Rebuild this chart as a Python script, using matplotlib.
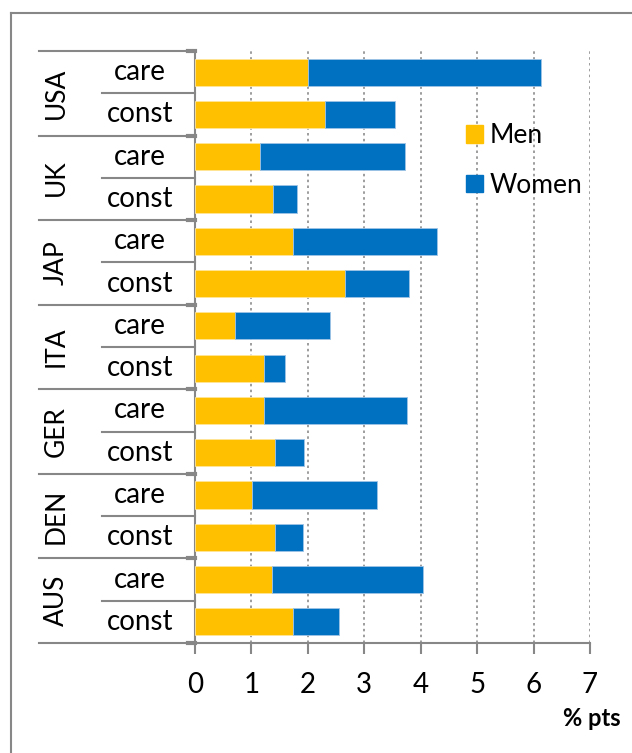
import numpy as np
import matplotlib
matplotlib.use("Agg")
import matplotlib.pyplot as plt
from matplotlib.lines import Line2D
from matplotlib.patches import Patch
from matplotlib.transforms import blended_transform_factory

plt.rcParams['font.family'] = ['Lato', 'DejaVu Sans']

# data, top row first
countries = ['USA', 'UK', 'JAP', 'ITA', 'GER', 'DEN', 'AUS']
subcats = ['care', 'const']
men = [2.01, 2.30, 1.16, 1.38, 1.73, 2.65, 0.70, 1.23, 1.23, 1.41, 1.01, 1.41, 1.37, 1.73]
women = [4.13, 1.25, 2.56, 0.42, 2.56, 1.14, 1.70, 0.36, 2.53, 0.53, 2.21, 0.50, 2.67, 0.82]
xticks = [0, 1, 2, 3, 4, 5, 6, 7]

yellow = '#FFC000'
blue = '#0070C0'
gray = '#878787'

W, H = 632, 753
fig = plt.figure(figsize=(W / 100, H / 100), dpi=100)

# outer chart border (only top and left show in the crop)
fig.add_artist(Line2D([11 / W, 11 / W], [0, 1 - 13 / H], color=gray, lw=1.5))
fig.add_artist(Line2D([11 / W, 1], [1 - 13 / H, 1 - 13 / H], color=gray, lw=1.5))

left, right, top, bottom = 195, 590, 51, 643
ax = fig.add_axes([left / W, 1 - bottom / H, (right - left) / W, (bottom - top) / H])

n = len(men)
y = np.arange(n)
ax.barh(y, men, height=0.64, color=yellow, edgecolor='#FFE699', linewidth=0.6, label='Men', zorder=3)
ax.barh(y, women, left=men, height=0.64, color=blue, edgecolor='#9DC3E6', linewidth=0.6, label='Women', zorder=3)

ax.set_ylim(n - 0.5, -0.5)
ax.set_xlim(0, 7)
ax.set_xticks(xticks)
ax.set_xticklabels([str(t) for t in xticks], fontsize=20)
ax.set_yticks([])
ax.tick_params(axis='x', direction='out', length=8, width=1.5, color=gray, pad=13)
ax.grid(axis='x', linestyle=(0, (1.5, 2)), color='#8c8c8c', lw=1.2, zorder=0)

for s in ['top', 'right']:
    ax.spines[s].set_visible(False)
for s in ['left', 'bottom']:
    ax.spines[s].set_color(gray)
    ax.spines[s].set_linewidth(1.5)

# category table on the left
tr = blended_transform_factory(ax.transAxes, ax.transData)
x_grp = (39 - left) / (right - left)
x_sub = (102 - left) / (right - left)
x_grp_txt = (56 - left) / (right - left)
x_sub_txt = (140 - left) / (right - left)
x_tick = (-7) / (right - left)

for g in range(len(countries) + 1):
    yy = g * 2 - 0.5
    ax.plot([x_grp, 0], [yy, yy], transform=tr, color=gray, lw=1.5, clip_on=False)
    ax.plot([x_tick, 0], [yy, yy], transform=tr, color=gray, lw=3, clip_on=False)
for g in range(len(countries)):
    yy = g * 2 + 0.5
    ax.plot([x_sub, 0], [yy, yy], transform=tr, color=gray, lw=1.5, clip_on=False)
    ax.text(x_grp_txt, g * 2 + 0.5, countries[g], transform=tr, rotation=90,
            ha='center', va='center', fontsize=19)
    for k, sc in enumerate(subcats):
        ax.text(x_sub_txt, g * 2 + k, sc, transform=tr, ha='center', va='center', fontsize=20)

ax.legend(handles=[Patch(color=yellow, label='Men'), Patch(color=blue, label='Women')],
          loc='upper left', bbox_to_anchor=(0.685, 0.878), frameon=False, fontsize=19,
          handlelength=0.65, handleheight=0.65, handletextpad=0.25, labelspacing=0.93,
          borderpad=0, borderaxespad=0)

fig.text(621 / W, 1 - 718 / H, '% pts', ha='right', va='center', fontsize=17, fontweight='bold')

fig.savefig('out.png', dpi=100)
